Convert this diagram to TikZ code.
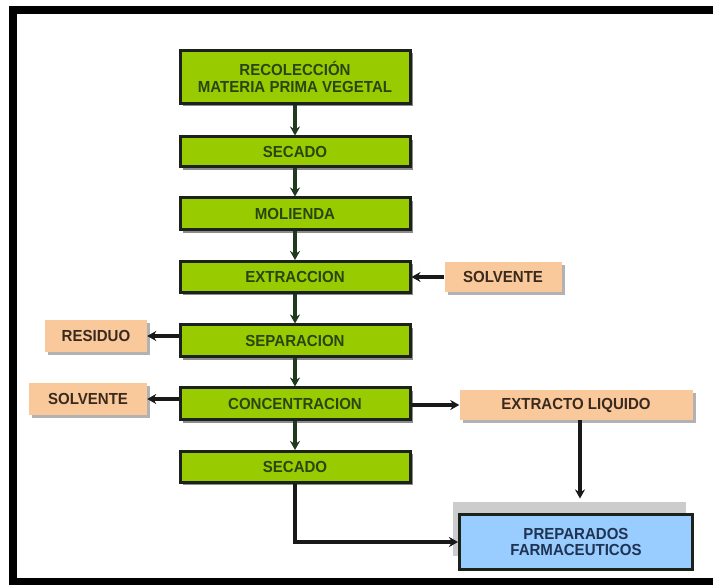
\documentclass[tikz,border=0pt]{standalone}
\usepackage{fontspec}
\setmainfont[FakeStretch=0.94]{Liberation Sans}
\usetikzlibrary{shadows,arrows.meta,calc}
\definecolor{boxgreen}{HTML}{99CC00}
\definecolor{txtgreen}{HTML}{2A4512}
\definecolor{boxorange}{HTML}{F9C99C}
\definecolor{txtbrown}{HTML}{3A2A1E}
\definecolor{boxblue}{HTML}{99CCFF}
\definecolor{txtblue}{HTML}{1F3352}
\definecolor{linegreen}{HTML}{1F3A1F}
\definecolor{edge}{HTML}{1A221A}
\tikzset{
  boxfont/.style={font=\bfseries\fontsize{16}{16.5}\selectfont},
  greenbox/.style={draw=edge, line width=3pt, fill=boxgreen, minimum width=230pt,
    text=txtgreen, boxfont, align=center,
    drop shadow={shadow xshift=3pt, shadow yshift=-3pt, fill=black!45, opacity=1}},
  orangebox/.style={fill=boxorange, text=txtbrown, boxfont,
    align=center, drop shadow={shadow xshift=3pt, shadow yshift=-3pt, fill=black!30, opacity=1}},
  bluebox/.style={draw=edge, line width=3pt, fill=boxblue, text=txtblue,
    boxfont, align=center,
    drop shadow={shadow xshift=-7pt, shadow yshift=13pt, fill=black!20, opacity=1}},
  flowarrow/.style={draw=linegreen, line width=3.4pt, -{Stealth[length=9pt,width=10pt]}},
  sidearrow/.style={draw=black!90, line width=3.4pt, -{Stealth[length=9pt,width=10pt]}}
}
\begin{document}
\begin{tikzpicture}[x=1pt,y=-1pt]
\useasboundingbox (0,0) rectangle (713,585);
\fill[white] (0,0) rectangle (713,585);
% frame
\fill[black] (9,6) rectangle (713,14);
\fill[black] (9,6) rectangle (17,585);
\fill[black] (9,578) rectangle (713,585);

% main column
\node[greenbox, minimum height=53pt] (rec) at (295,77) {RECOLECCIÓN\\MATERIA PRIMA VEGETAL};
\node[greenbox, minimum height=30pt] (sec1) at (295,152) {SECADO};
\node[greenbox, minimum height=32pt] (mol) at (295,214) {MOLIENDA};
\node[greenbox, minimum height=31pt] (ext) at (295,277) {EXTRACCION};
\node[greenbox, minimum height=32pt] (sep) at (295,341) {SEPARACION};
\node[greenbox, minimum height=32pt] (con) at (295,404) {CONCENTRACION};
\node[greenbox, minimum height=31pt] (sec2) at (295,467) {SECADO};

% side boxes
\node[orangebox, minimum width=102pt, minimum height=32pt] (res) at (96,336) {RESIDUO};
\node[orangebox, minimum width=118pt, minimum height=32pt] (solL) at (88,399) {SOLVENTE};
\node[orangebox, minimum width=117pt, minimum height=30pt] (solR) at (503,277) {SOLVENTE};
\node[orangebox, minimum width=233pt, minimum height=30pt] (extl) at (576,405) {EXTRACTO LIQUIDO};
\node[bluebox, minimum width=233pt, minimum height=54pt] (prep) at (576,542) {PREPARADOS\\FARMACEUTICOS};

% arrows main
\draw[flowarrow] (rec.south) -- (sec1.north);
\draw[flowarrow] (sec1.south) -- (mol.north);
\draw[flowarrow] (mol.south) -- (ext.north);
\draw[flowarrow] (ext.south) -- (sep.north);
\draw[flowarrow] (sep.south) -- (con.north);
\draw[flowarrow] (con.south) -- (sec2.north);

% side arrows
\draw[sidearrow] (solR.west) -- (ext.east);
\draw[sidearrow] (sep.west |- res.east) -- (res.east);
\draw[sidearrow] (con.west |- solL.east) -- (solL.east);
\draw[sidearrow] (con.east |- extl.west) -- (extl.west);
\coordinate (prepTop) at ($(prep.north)+(4,-15)$);
\draw[sidearrow] (extl.south -| prepTop) -- (prepTop);
\draw[sidearrow] (sec2.south) |- (prep.west);
\end{tikzpicture}
\end{document}
